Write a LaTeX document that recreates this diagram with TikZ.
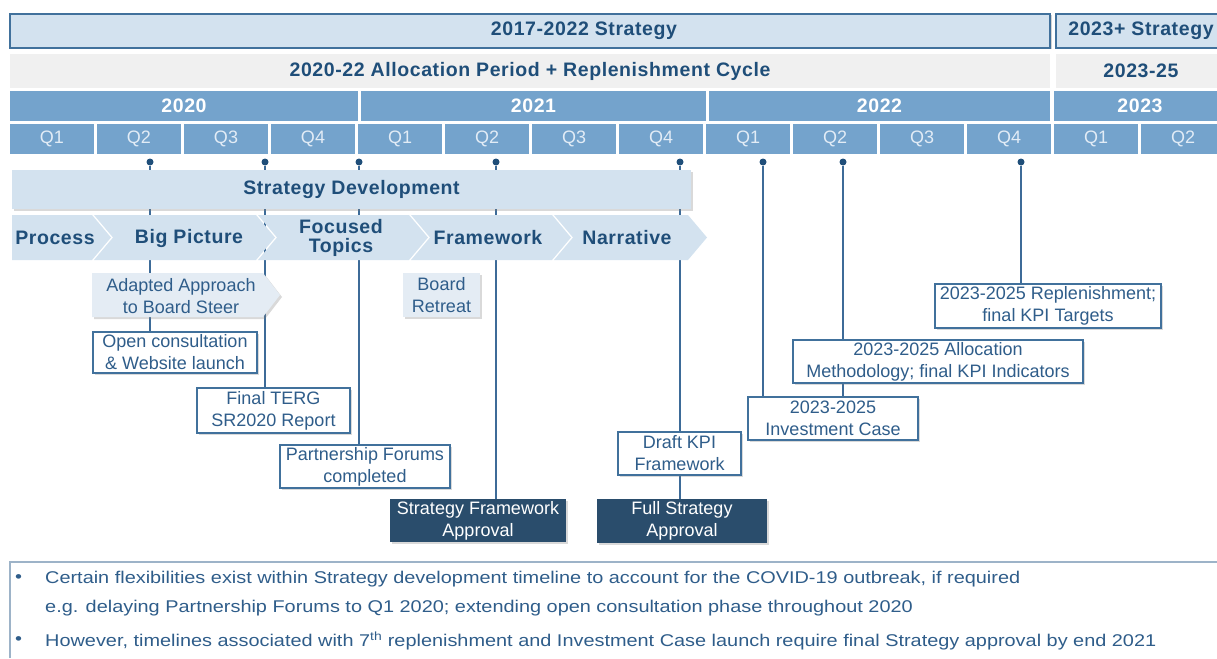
\documentclass[tikz,border=0pt]{standalone}
\usepackage{fontspec}
\setmainfont{Liberation Sans}
\newfontfamily\notefamily[FakeStretch=1.17]{Liberation Sans}
\usetikzlibrary{shadows,backgrounds}

\definecolor{bandfill}{HTML}{D3E2EF}
\definecolor{bandline}{HTML}{41719C}
\definecolor{navy}{HTML}{1F4E79}
\definecolor{yearfill}{HTML}{74A3CC}
\definecolor{qtext}{HTML}{E2ECF6}
\definecolor{greyfill}{HTML}{F0F0F0}
\definecolor{darkbox}{HTML}{2A4D6C}
\definecolor{linkblue}{HTML}{3D6B98}
\definecolor{textblue}{HTML}{2F5D8A}
\definecolor{softfill}{HTML}{E4ECF4}
\definecolor{noteline}{HTML}{9DB3C8}

\newcommand{\hdfont}{\fontsize{19.5}{22}\selectfont\bfseries\addfontfeatures{LetterSpace=3}}
\newcommand{\qtrfont}{\fontsize{18}{20}\selectfont}
\newcommand{\evfont}{\fontsize{18}{22}\selectfont}
\newcommand{\notefont}{\notefamily\fontsize{17}{20}\selectfont}

\tikzset{
  band/.style={draw=bandline, line width=2.5pt, fill=bandfill, inner sep=0pt,
    drop shadow={shadow xshift=1.5pt, shadow yshift=-1.5pt, opacity=0.35}},
  greyband/.style={fill=greyfill, inner sep=0pt, text=navy, font=\hdfont},
  yearbox/.style={fill=yearfill, inner sep=0pt, minimum height=30pt,
    text=white, font=\hdfont},
  qbox/.style={fill=yearfill, inner sep=0pt, minimum height=30pt,
    minimum width=84pt, text=qtext, font=\qtrfont},
  headtext/.style={text=navy, font=\hdfont, inner sep=0pt},
  chev/.style={fill=bandfill},
  chevtext/.style={text=navy, font=\hdfont, align=center, inner sep=0pt},
  event/.style={draw=bandline, line width=1.8pt, fill=white, text=textblue,
    font=\evfont, align=center, inner sep=0pt,
    drop shadow={shadow xshift=2pt, shadow yshift=-2pt, opacity=0.3}},
  soft/.style={fill=softfill, text=textblue, font=\evfont, align=center,
    inner sep=0pt, drop shadow={shadow xshift=2pt, shadow yshift=-2pt, opacity=0.3}},
  milestone/.style={fill=darkbox, text=white, font=\evfont, align=center,
    inner sep=0pt, drop shadow={shadow xshift=2pt, shadow yshift=-2pt, opacity=0.3}},
  link/.style={draw=linkblue, line width=2.2pt},
  pindot/.style={circle, fill=navy, inner sep=0pt, minimum size=7pt},
  note/.style={text=textblue, font=\notefont, inner sep=0pt, anchor=west},
}

\begin{document}
\begin{tikzpicture}[x=1pt, y=-1pt]
\useasboundingbox (0,0) rectangle (1217,658);

% strategy bands
\node (strat17) [band, minimum width=1040pt, minimum height=34pt] at (530,31) {};
\node (strat17txt) [headtext] at (584,31) {2017-2022 Strategy};
\node (strat23) [band, minimum width=170pt, minimum height=34pt, text=navy,
  font=\hdfont] at (1141,31) {2023+ Strategy};
\node (cycle) [greyband, minimum width=1040pt, minimum height=34pt] at (530,71)
  {2020-22 Allocation Period + Replenishment Cycle};
\node (cycle23) [greyband, minimum width=170pt, minimum height=34pt] at (1141,71)
  {2023-25};

% years and quarters
\node (y2020) [yearbox, minimum width=348pt] at (184,106) {2020};
\node (y2021) [yearbox, minimum width=345pt] at (533.5,106) {2021};
\node (y2022) [yearbox, minimum width=341pt] at (879.5,106) {2022};
\node (y2023) [yearbox, minimum width=172pt] at (1140,106) {2023};
\foreach \i in {0,...,13} {
  \pgfmathtruncatemacro{\q}{mod(\i,4)+1}
  \node (q\i) [qbox] at (52+87*\i,139) {Q\q};
}

% milestone dots
\node (d1) [pindot] at (150,162) {};
\node (d2) [pindot] at (265,162) {};
\node (d3) [pindot] at (359,162) {};
\node (d4) [pindot] at (496,162) {};
\node (d5) [pindot] at (680,162) {};
\node (d6) [pindot] at (763,162) {};
\node (d7) [pindot] at (843,162) {};
\node (d8) [pindot] at (1021,162) {};

% strategy development
\node (stratdev) [chev, inner sep=0pt, minimum width=679pt, minimum height=39pt,
  text=navy, font=\hdfont,
  drop shadow={shadow xshift=2pt, shadow yshift=-2pt, opacity=0.3}]
  at (351.5,189.5) {Strategy Development};

\fill[chev] (12,215) -- (92,215) -- (111,237.5) -- (92,260) -- (12,260) -- cycle;
\foreach \l/\s in {94/256, 258/409, 411/552, 554/688}
  \fill[chev] (\l,215) -- (\s,215) -- (\s+19,237.5) -- (\s,260) -- (\l,260)
    -- (\l+19,237.5) -- cycle;
\node (process) [chevtext] at (55,238) {Process};
\node (bigpic) [chevtext] at (189,238) {Big Picture};
\node (focused) [chevtext] at (341,238) {Focused\\[-3pt]Topics};
\node (framework) [chevtext] at (488,238) {Framework};
\node (narrative) [chevtext] at (627,238) {Narrative};

% events
\fill[softfill, drop shadow={shadow xshift=2pt, shadow yshift=-2pt, opacity=0.3}]
  (92,273) -- (263,273) -- (280,295) -- (263,317) -- (92,317) -- cycle;
\node (adapted) [text=textblue, font=\evfont, align=center, inner sep=0pt]
  at (181,296) {Adapted Approach\\to Board Steer};
\node (boardret) [soft, minimum width=77pt, minimum height=44pt] at (441.5,295)
  {Board\\Retreat};
\node (opencons) [event, minimum width=164pt, minimum height=41pt] at (175,352.5)
  {Open consultation\\\& Website launch};
\node (terg) [event, minimum width=153pt, minimum height=45pt] at (273.5,410.5)
  {Final TERG\\SR2020 Report};
\node (forums) [event, minimum width=170pt, minimum height=43pt] at (365,466.5)
  {Partnership Forums\\completed};
\node (sfa) [milestone, minimum width=176pt, minimum height=43pt] at (478,520.5)
  {Strategy Framework\\Approval};
\node (draftkpi) [event, minimum width=123pt, minimum height=43pt] at (679.5,453.5)
  {Draft KPI\\Framework};
\node (fsa) [milestone, minimum width=170pt, minimum height=44pt] at (682,521)
  {Full Strategy\\Approval};
\node (invest) [event, minimum width=170pt, minimum height=43pt] at (833,418.5)
  {2023-2025\\Investment Case};
\node (allocm) [event, minimum width=290pt, minimum height=43pt] at (938,361.5)
  {2023-2025 Allocation\\Methodology; final KPI Indicators};
\node (replen) [event, minimum width=226pt, minimum height=44pt] at (1048,306)
  {2023-2025 Replenishment;\\final KPI Targets};

\begin{scope}[on background layer]
\draw[link] (d1) -- (d1 |- opencons.north);
\draw[link] (d2) -- (d2 |- terg.north);
\draw[link] (d3) -- (d3 |- forums.north);
\draw[link] (d4) -- (d4 |- sfa.north);
\draw[link] (d5) -- (d5 |- fsa.north);
\draw[link] (d6) -- (d6 |- invest.north);
\draw[link] (d7) -- (d7 |- invest.north);
\draw[link] (d8) -- (d8 |- replen.north);
\end{scope}

% notes
\draw[noteline, line width=1.5pt] (10,658) -- (10,562) -- (1217,562);
\node (b1) [note] at (15,579) {\textbullet};
\node (n1) [note] at (45,579) {Certain flexibilities exist within Strategy development
  timeline to account for the COVID-19 outbreak, if required};
\node (n2) [note] at (45,608) {e.g. delaying Partnership Forums to Q1 2020; extending
  open consultation phase throughout 2020};
\node (b2) [note] at (15,641) {\textbullet};
\node (n3) [note] at (45,641) {However, timelines associated with 7\textsuperscript{th}
  replenishment and Investment Case launch require final Strategy approval by end 2021};
\end{tikzpicture}
\end{document}
